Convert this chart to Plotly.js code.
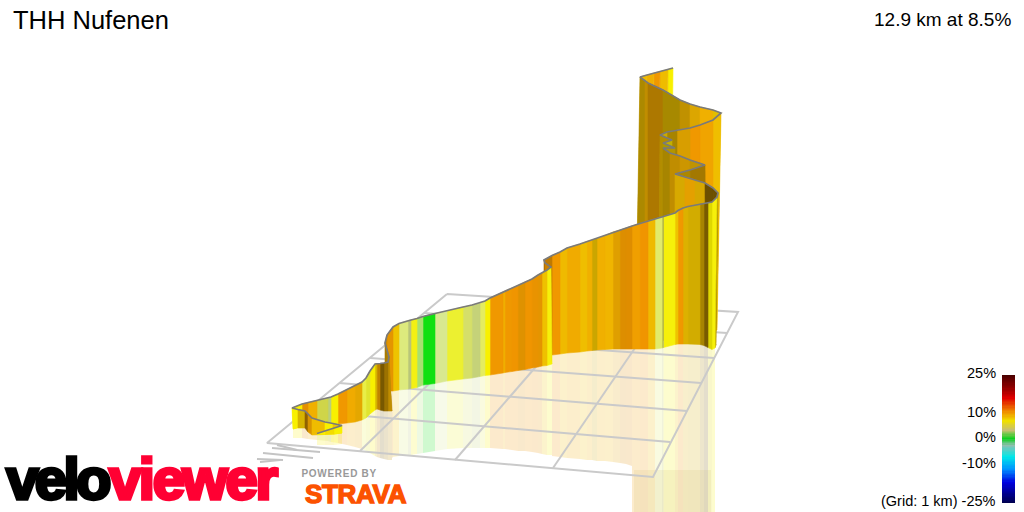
<!DOCTYPE html>
<html><head><meta charset="utf-8">
<script src="https://cdn.plot.ly/plotly-3.0.1.min.js"></script>
<style>html,body{margin:0;padding:0;background:#fff}#c{width:1024px;height:512px}
.annotation[data-index="7"] text{letter-spacing:-3.6px;stroke:#000;stroke-width:3.4px}
.annotation[data-index="8"] text{letter-spacing:-2.3px;stroke:#ff0033;stroke-width:3.4px}
.annotation[data-index="9"] text{letter-spacing:.7px}
.annotation[data-index="10"] text{letter-spacing:-.3px;stroke:#fc5200;stroke-width:1.4px}
</style></head>
<body><div id="c"></div>
<script>
// Ribbon stations in route order: top edge, foot edge, gradient (%) and side shading of the strip after each station
const topX=[317,325,334,342,333,325,312,308,305,298,292,
302,308,317,328,331,338,347,355,362,366,370,375,
377,380,384,388,389,
387,385,387,393,
399,408,411,417,423,435,447,463,472,480,485,490,
503,505,512,518,525,532,538,542,547,551,545,544,
552,560,567,580,587,592,597,605,613,620,626,632,640,648,655,662,663.5,675,678,683,688,700,704,708,712,717,
718,713,705,695,685,675,690,705,690,680,670,663,675,663,672,660,667,677,690,700,713,721,713,700,690,680,663,648,645,640,647,654,660,668,673];
const topY=[433.5,431,428.5,425.5,423.5,422,418,414,411,409.5,408,
404,402.5,400.5,398,397,394,389.5,385.5,382,378,371,364,
363.5,363.5,363,362,357,
349,343,335,327,
323.5,320.5,320,318.5,316.5,313.5,311,307,305,303,301,298,
292,291,288,285.5,282,279,275,273,270,267,263,260,
255.5,252,248,244,241.5,240,238.5,235.5,232,230,228,226,223.5,221,219,217,216.5,213,210.5,208,206.5,204,203.5,203,202,197,
193,188,183,180,177,174,170,165,160,156,153,148,148,143,140,135,132,130,128,125,120,113,110,107,104,100,90,83,81,77,75,73,71.5,69.5,68];
const footX=[317,325,334,342,333,325,312,308,305,298,293,
302,308,317,328,331,338,347,355,362,366,370,375,
377,380,384,388,392,
387,385,387,393,
399,408,411,417,423,435,447,463,472,480,485,490,
503,505,512,518,525,532,538,542,547,552,545,544,
552,560,567,580,587,592,597,605,613,620,626,632,640,648,655,662,663.5,675,678,683,688,700,704,708,712,715,
716,714,706,695,685,675,690,706,690,680,670,663,675,663,672,659,667,677,690,700,713,717,713,700,690,680,663,648,645,637,645,652,658,666,671];
const footY=[434.5,434.5,434.2,433,434,434.5,435,432,428,428,429,
426,426,425,424,424,424,423,422,420,418,414,410,
409,410,411,411,411,
394,392,391,391,
390,389,388.5,387.5,385,383.5,381,379,378,376.5,375.5,375,
373,372.5,371.5,370.5,369.5,368,367,366,365.5,364,355,355,
355,354,353,352,351,350.5,350,349.5,349,349,349,349,349,349,349,348,347.5,344.5,344,344,344,344.5,345.5,347.5,349.5,348,
345,340,340,340,340,340,340,340,340,340,340,340,340,340,340,330,330,330,330,330,330,330,330,330,330,330,330,330,330,250,250,250,250,250,250];
const stripGrade=[6,6.5,6,7,6,7.5,8.5,8.5,7,6,6,
9,8,4.3,2.8,6,9,8.2,8,4.5,5,6,7,
8.5,8,8,8,8,
8,8.5,8.8,7.2,
3.4,3,5.6,2,1,3,5,3.7,3.2,4,6,9,
8,9,9.2,8.8,9.2,9,8.8,7.3,5.8,9,9,9,
9,7.6,8.2,7.4,8,7.2,8,7.8,8.2,8.9,9,8.7,9.2,7.6,3.8,4,5.8,7.2,9,7.3,7.2,7.5,7.8,6,5.8,7,
8,8,7.6,8.3,7.5,7.5,8,7.7,8,8,7.4,7,6.5,6.5,7.5,7,7.5,8,9,8.5,7.4,7,8,7.8,7.8,7.2,8.4,8,7.4,7.5,8,9,7.5,6];
const stripShade=[1,1,1,1,1,1,.9,.6,.9,1,1,
.95,1,.9,.9,1,1,1,.95,1,.95,1,.9,
.8,.5,.65,.8,.75,
.7,.85,.95,1,
1,.85,1,1,1,1,1,.95,.9,1,1,1,
1,1,1,.93,1,.97,.95,1,1,.85,.7,.8,
1,1,1,1,1,.85,1,1,.93,.92,.93,1,1,1,1,.8,1,1,1,.92,.88,.7,.5,.9,1,.8,
.45,.45,.9,.95,.9,.72,.68,.8,.85,.8,.7,.75,.7,.8,.75,.85,.7,.9,1,1,1,.95,1,.92,.8,.7,.72,.8,.72,1,1,1,1,1];
// Where each front station's reflection ends on the floor
const mirrorY=[445,445,445,444,443,443,442,441,441,440,438,
438,439,440,441,442,443,445,447,449,451,453,456,
457,458,459,460,460,
458,458,458,457,
456,455,455,454,453,451,449,448,448,448,448,448,
449,449,450,451,451,452,453,454,455,455,455,455,
456,457,458,459,460,460,461,461,462,463,464,466,512,512,512,512,512,512,512,512,512,512,512,512,512,512];
const gradeStops=[-25,-17,-12,-7,-2.5,0,1,2,3,4,5,6,7,8,9,10.5,16,20,25];
const gradeColors=['#000050','#0000e0','#0090ff','#00e8e8','#90c0b0','#10e010','#10e010','#a8e070','#d8e890','#e4ec60','#ecf030','#f8f000','#eec800','#f0b000','#f09800','#f08000','#e00000','#900000','#4a0000'];
const legendStops=[-25,-17,-12,-7,-2.5,0,3.5,7,10.5,16,20,25];
const legendColors=['#000050','#0000e0','#0090ff','#00e8e8','#90c0b0','#10d020','#c8c070','#f0e000','#f09000','#e00000','#900000','#4a0000'];
const legendLabels=[['25%',25],['10%',10],['0%',0],['-10%',-10]];
// Floor grid and ground marks
const gridCorners={backLeft:[447,294],backRight:[738,312],frontRight:[653,477],frontLeft:[267,443]};
const gridRows=[[424,313,727,333],[397,336,714,358],[370,358,701,383],[339,383,687,411],[305,411,670,442]];
const gridCols=[[360,451,517,298],[455,460,592,302],[553,468,663,307]];
const groundMarks=[[272,448,320,452],[263,453,313,458],[257,459,283,460],[260,462,280,460],[277,445,297,450]];

function hex(c){return [1,3,5].map(i=>parseInt(c.substr(i,2),16));}
function colorOf(g,s){
  let i=0; while(i<gradeStops.length-2&&g>gradeStops[i+1])i++;
  const t=Math.min(1,Math.max(0,(g-gradeStops[i])/(gradeStops[i+1]-gradeStops[i])));
  const a=hex(gradeColors[i]),b=hex(gradeColors[i+1]);
  return a.map((v,k)=>(v+(b[k]-v)*t)*s);
}
const rgb=(c,o)=>`rgba(${c.map(Math.round).join(',')},${o})`;
const traces=[];
const poly=(x,y,fill,lw)=>traces.push({type:'scatter',mode:'lines',x,y,fill:'toself',fillcolor:fill,
  line:{color:fill,width:lw},hoverinfo:'skip',showlegend:false});
const line=(x,y,color,w)=>traces.push({type:'scatter',mode:'lines',x,y,line:{color,width:w},hoverinfo:'skip',showlegend:false});

// reflections: the first short run, then only the parts that extend furthest right, so folds do not stack up
let reach=0;
for(let i=0;i<mirrorY.length-1;i++){
  if(i===10)reach=0;
  if(footX[i+1]<=reach||footX[i+1]<=footX[i])continue;
  const startX=Math.max(footX[i],reach);
  const endA=mirrorY[i+1]-mirrorY[i]>20?mirrorY[i+1]:mirrorY[i];
  poly([startX,footX[i+1],footX[i+1],startX],[footY[i],footY[i+1],mirrorY[i+1],endA],
    rgb(colorOf(stripGrade[i],stripShade[i]),.2),0);
  reach=footX[i+1];
}
poly([634,711,711,634],[470,470,512,512],'rgba(200,170,70,.12)',0);
// floor
const c=gridCorners;
line([c.backLeft[0],c.backRight[0],c.frontRight[0],c.frontLeft[0],c.backLeft[0]],
     [c.backLeft[1],c.backRight[1],c.frontRight[1],c.frontLeft[1],c.backLeft[1]],'#cacaca',2);
gridRows.concat(gridCols).forEach(r=>line([r[0],r[2]],[r[1],r[3]],'#cacaca',2));
groundMarks.forEach(r=>line([r[0],r[2]],[r[1],r[3]],'#c4c4c4',2));
// ribbon, far end first
for(let i=topX.length-2;i>=0;i--){
  poly([topX[i],topX[i+1],footX[i+1],footX[i]],[topY[i],topY[i+1],footY[i+1],footY[i]],
    rgb(colorOf(stripGrade[i],stripShade[i]),1),.6);
}
line(topX,topY,'#7a7a7a',1.7);
// legend bar
const ramp=[];for(let g=-25;g<=25;g+=.5)ramp.push(g);
traces.push({type:'heatmap',xaxis:'x2',yaxis:'y2',x:[0,1],y:ramp,z:ramp.map(g=>[g,g]),zmin:-25,zmax:25,showscale:false,hoverinfo:'skip',
  colorscale:legendStops.map((g,i)=>[(g+25)/50,legendColors[i]])});

const txt=(text,x,y,size,color,anchor,extra)=>Object.assign({text,x,y,xref:'x',yref:'y',showarrow:false,xanchor:anchor,yanchor:'middle',
  font:{family:'Liberation Sans, Arial, sans-serif',size,color}},extra||{});
const gradeY=g=>437-g*2.55;
const bold=(size,color)=>({font:{family:'Liberation Sans',size,color,weight:700}});
const anns=[
  txt('THH Nufenen',11,20,25.5,'#000','left'),
  txt('12.9 km at 8.5%',1013,19,19,'#000','right'),
  txt('(Grid: 1 km) -25%',998,501,14.5,'#000','right'),
  ...legendLabels.map(l=>txt(l[0],998,gradeY(l[1]),14.5,'#000','right')),
  txt('velo',0,478,58,'#000','left',Object.assign(bold(58,'#000'),{xshift:-3})),
  txt('viewer',100,478,58,'#ff0033','left',bold(58,'#ff0033')),
  txt('POWERED BY',303,473,10,'#999','left',bold(10,'#999')),
  txt('STRAVA',302,494,26,'#fc5200','left',bold(26,'#fc5200'))
];
const layout={width:1024,height:512,margin:{l:0,r:0,t:0,b:0},paper_bgcolor:'#fff',plot_bgcolor:'rgba(0,0,0,0)',showlegend:false,
  xaxis:{range:[0,1024],domain:[0,1],visible:false,fixedrange:true},
  yaxis:{range:[512,0],domain:[0,1],visible:false,fixedrange:true},
  xaxis2:{domain:[1002/1024,1015/1024],visible:false,anchor:'y2',fixedrange:true},
  yaxis2:{domain:[1-503/512,1-375/512],visible:false,anchor:'x2',range:[-25,25],fixedrange:true},
  annotations:anns};
Plotly.newPlot('c',traces,layout,{displayModeBar:false,staticPlot:true});
</script></body></html>
